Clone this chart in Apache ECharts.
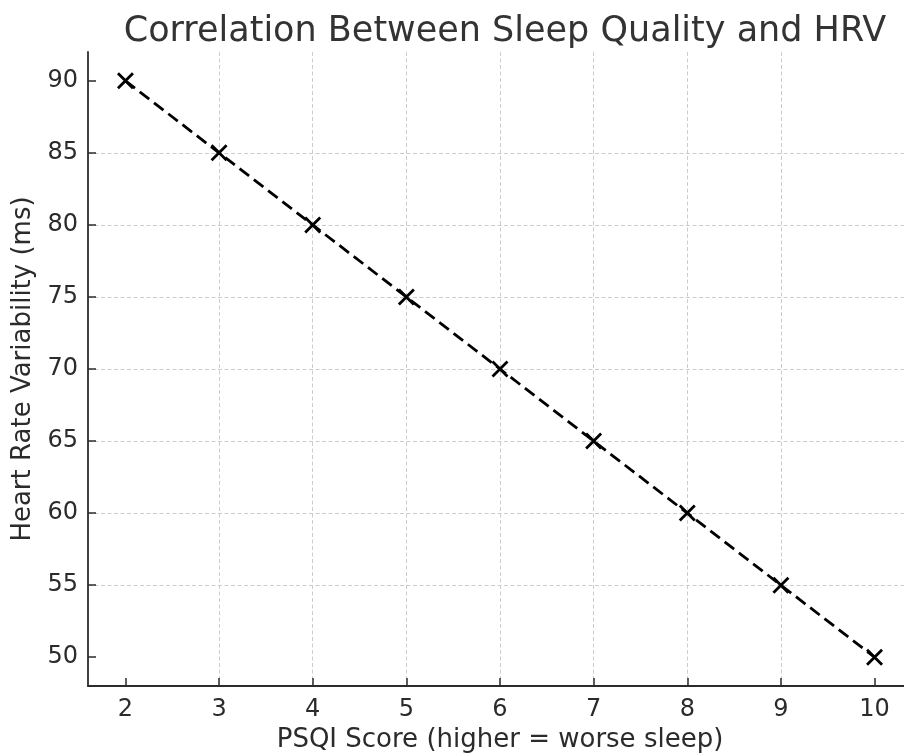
<!DOCTYPE html>
<html>
<head>
<meta charset="utf-8">
<script src="https://cdn.jsdelivr.net/npm/echarts@6/dist/echarts.min.js"></script>
<style>
html,body{margin:0;padding:0;background:#fff;}
#chart{width:904px;height:753px;}
</style>
</head>
<body>
<div id="chart"></div>
<script>
// Data
const psqiScores = [2, 3, 4, 5, 6, 7, 8, 9, 10];
const hrvValues = [90, 85, 80, 75, 70, 65, 60, 55, 50];
const xTicks = [2, 3, 4, 5, 6, 7, 8, 9, 10];
const yTicks = [50, 55, 60, 65, 70, 75, 80, 85, 90];

const titleText = 'Correlation Between Sleep Quality and HRV';
const xName = 'PSQI Score (higher = worse sleep)';
const yName = 'Heart Rate Variability (ms)';

const FONT = 'DejaVu Sans';
const TXT = '#2b2b2b';

const chart = echarts.init(document.getElementById('chart'), null, {renderer: 'canvas'});
const points = psqiScores.map((x, i) => [x, hrvValues[i]]);

const axisCommon = {
  type: 'value',
  axisLine: {show: true, lineStyle: {color: '#2b2b2b', width: 1.8}},
  axisTick: {show: true, inside: true, length: 8, lineStyle: {color: '#2b2b2b', width: 1.5}},
  splitLine: {show: true, showMinLine: false, showMaxLine: false, lineStyle: {color: '#cccccc', width: 1, type: [4, 2.5]}},
  axisLabel: {color: TXT, fontFamily: FONT, fontSize: 24},
  nameLocation: 'middle',
  nameTextStyle: {color: TXT, fontFamily: FONT, fontSize: 26}
};

chart.setOption({
  animation: false,
  backgroundColor: '#ffffff',
  title: {
    text: titleText,
    left: 500,
    textAlign: 'center',
    top: 9,
    textStyle: {color: '#333333', fontFamily: FONT, fontSize: 35, fontWeight: 'normal'}
  },
  grid: {left: 88, right: -8, top: 52, bottom: 67, containLabel: false, outerBoundsMode: 'none'},
  xAxis: Object.assign({}, axisCommon, {
    min: 1.6, max: 10.4,
    name: xName, nameGap: 37,
    axisTick: Object.assign({}, axisCommon.axisTick, {customValues: xTicks}),
    axisLabel: Object.assign({}, axisCommon.axisLabel, {customValues: xTicks, margin: 12})
  }),
  yAxis: Object.assign({}, axisCommon, {
    min: 48, max: 92,
    name: yName, nameGap: 51,
    axisTick: Object.assign({}, axisCommon.axisTick, {customValues: yTicks}),
    axisLabel: Object.assign({}, axisCommon.axisLabel, {customValues: yTicks, margin: 10})
  }),
  series: [{
    type: 'line',
    data: points,
    symbol: 'path://M0,0L10,10M10,0L0,10',
    symbolSize: 15,
    showAllSymbol: true,
    itemStyle: {color: 'rgba(0,0,0,0)', borderColor: '#000', borderWidth: 2.8},
    lineStyle: {color: '#000', width: 2.8, type: [12, 6]},
    z: 3
  }]
});
</script>
</body>
</html>
